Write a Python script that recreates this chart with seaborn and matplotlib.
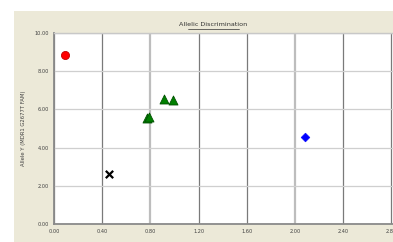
import numpy as np
import pandas as pd
import matplotlib
matplotlib.use('Agg')
import matplotlib.pyplot as plt
import seaborn as sns
from matplotlib.patches import Rectangle
from matplotlib.lines import Line2D

# ===== 数据 =====
groups = ['Allele Y', 'Undetermined', 'Both', 'Both', 'Both', 'Both', 'Allele X']
x_vals = [0.09, 0.454, 0.775, 0.79, 0.915, 0.985, 2.083]
y_vals = [8.85, 2.60, 5.53, 5.62, 6.53, 6.48, 4.54]

x_ticks = [0.0, 0.4, 0.8, 1.2, 1.6, 2.0, 2.4, 2.8]
y_ticks = [0.0, 2.0, 4.0, 6.0, 8.0, 10.0]

df = pd.DataFrame({'x': x_vals, 'y': y_vals, 'group': groups})

# 每组的标记样式
styles = {
    'Allele Y': dict(marker='o', color='#ff0000', edgecolor='#c00000', s=34, linewidth=0.6),
    'Undetermined': dict(marker='x', color='#000000', s=28, linewidth=1.6),
    'Both': dict(marker='^', color='#008000', edgecolor='#005000', s=42, linewidth=0.6),
    'Allele X': dict(marker='D', color='#0000ff', edgecolor='#0000ff', s=20, linewidth=0.4),
}

sns.set_style('white')
plt.rcParams['font.family'] = ['DejaVu Sans']

fig = plt.figure(figsize=(3.93, 2.42), dpi=100)
fig.patch.set_facecolor('white')
# 米色背景面板
fig.add_artist(Rectangle((14 / 393, 0), 1 - 14 / 393, 1 - 11 / 242,
                         transform=fig.transFigure, facecolor='#ece9d8',
                         edgecolor='none', zorder=0))

ax = fig.add_axes([54 / 393, 18 / 242, 339 / 393, 191 / 242])
ax.set_facecolor('white')

for name, st in styles.items():
    sub = df[df['group'] == name]
    sns.scatterplot(data=sub, x='x', y='y', ax=ax, legend=False, zorder=5, **st)

ax.set_xlim(0, 2.813)
ax.set_ylim(0, 10)
ax.set_xticks(x_ticks)
ax.set_yticks(y_ticks)
ax.set_xticklabels([f'{v:.2f}' for v in x_ticks])
ax.set_yticklabels([f'{v:.2f}' for v in y_ticks])
ax.tick_params(labelsize=3.6, colors='#404040', length=2, width=0.6, pad=1.5)

# 网格线
ax.grid(axis='x', color='#7a7a7a', linewidth=0.9)
ax.grid(axis='y', color='#cfcfcf', linewidth=0.9)
for i in (2, 5):
    ax.get_xgridlines()[i].set_color('#bdbdbd')
    ax.get_xgridlines()[i].set_linewidth(1.6)
ax.set_axisbelow(True)

for sp in ['left', 'bottom']:
    ax.spines[sp].set_color('#8a8a8a')
    ax.spines[sp].set_linewidth(1.3)
ax.spines['top'].set_color('#c8c8c8')
ax.spines['top'].set_linewidth(1.0)
ax.spines['right'].set_visible(False)

ax.set_xlabel('')
ax.set_ylabel('Allele Y (MDR1 G2677T FAM)', fontsize=3.8, color='#404040', labelpad=6)

# 标题（带下划线）
fig.text(213.5 / 393, 1 - 25 / 242, 'Allelic Discrimination', ha='center', va='center',
         fontsize=4.6, color='#303030')
fig.add_artist(Line2D([188 / 393, 239 / 393], [1 - 28.5 / 242, 1 - 28.5 / 242],
                      transform=fig.transFigure, color='#303030', linewidth=0.5))

plt.savefig('out.png', dpi=100)
